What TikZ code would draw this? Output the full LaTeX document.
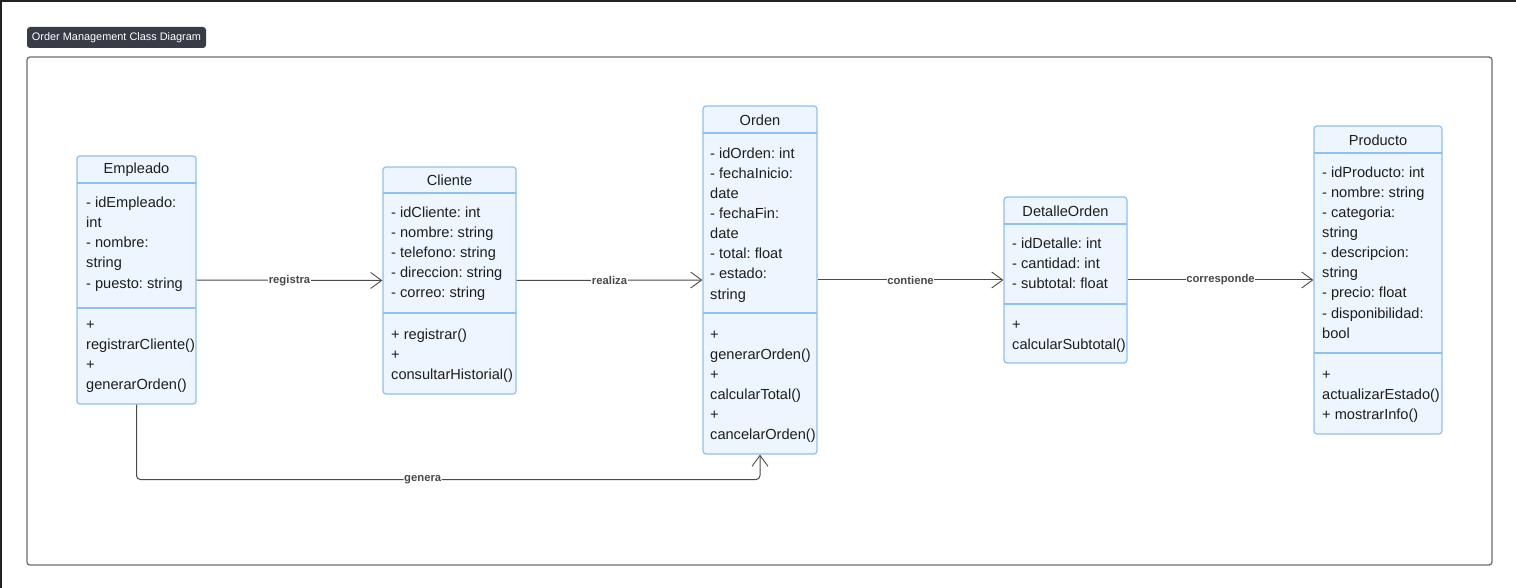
\documentclass[tikz,border=0pt]{standalone}
\usepackage{fontspec}
\setmainfont{Liberation Sans}
\usetikzlibrary{arrows.meta}
\frenchspacing
\definecolor{clsfill}{HTML}{EDF5FF}
\definecolor{clsborder}{HTML}{8FC0EE}
\definecolor{txtc}{HTML}{1E1E1E}
\definecolor{linec}{HTML}{4A4A4A}
\definecolor{framec}{HTML}{6E6E6E}
\definecolor{tagc}{HTML}{383C47}
\definecolor{darkc}{HTML}{222222}
\tikzset{
  cls/.style={draw=clsborder, fill=clsfill, rounded corners=3pt, line width=1.2pt, inner sep=0pt},
  div/.style={draw=clsborder, line width=1.2pt},
  txt/.style={text=txtc, inner sep=0pt, font=\frenchspacing\fontsize{14.6}{17}\selectfont},
  conn/.style={draw=linec, line width=1pt, -{Straight Barb[length=11pt,width=16pt,line width=0.9pt]}},
  lbl/.style={fill=white, inner sep=0.5pt, text=linec, font=\bfseries\fontsize{11.3}{13}\selectfont}
}
\newcommand{\mylines}[4]{%
  \foreach \t [count=\i from 0] in {#4}
    \node[txt, anchor=base west] (#1-\i) at (#2, #3+20*\i) {\t};%
}
\begin{document}
\begin{tikzpicture}[x=1pt, y=-1pt]
\useasboundingbox (0,0) rectangle (1516,588);
\fill[white] (0,0) rectangle (1516,588);
% screenshot edge
\fill[darkc] (0,0) rectangle (1516,2);
\fill[darkc] (0,0) rectangle (2,588);
% title tag
\node[fill=tagc, rounded corners=3pt, minimum width=179pt, minimum height=21pt, inner sep=0pt,
      text=white, font=\fontsize{10.9}{12}\selectfont] (tag) at (116.5,37.5) {Order Management Class Diagram};
% container
\node[draw=framec, line width=1.3pt, rounded corners=3pt, minimum width=1465pt, minimum height=508pt, inner sep=0pt] (frame) at (759.5,311) {};

% Empleado
\node[cls, minimum width=119pt, minimum height=248pt] (emp) at (136.5,280) {};
\draw[div] (77,183) -- (196,183);
\draw[div] (77,308) -- (196,308);
\node[txt] (emph) at (136.5,170) {Empleado};
\mylines{empa}{86}{208}{- idEmpleado:,int,- nombre:,string,- puesto: string}
\mylines{empm}{86}{329}{+,registrarCliente(),+,generarOrden()}

% Cliente
\node[cls, minimum width=133pt, minimum height=227pt] (cli) at (449.5,280.5) {};
\draw[div] (383,193) -- (516,193);
\draw[div] (383,313) -- (516,313);
\node[txt] (clih) at (449.5,180) {Cliente};
\mylines{clia}{391}{218}{- idCliente: int,- nombre: string,- telefono: string,- direccion: string,- correo: string}
\mylines{clim}{391}{339}{+ registrar(),+,consultarHistorial()}

% Orden
\node[cls, minimum width=114pt, minimum height=348pt] (ord) at (760,280) {};
\draw[div] (703,133) -- (817,133);
\draw[div] (703,313) -- (817,313);
\node[txt] (ordh) at (760,120) {Orden};
\mylines{orda}{710}{159}{- idOrden: int,- fechaInicio:,date,- fechaFin:,date,- total: float,- estado:,string}
\mylines{ordm}{710}{339}{+,generarOrden(),+,calcularTotal(),+,cancelarOrden()}

% DetalleOrden
\node[cls, minimum width=123pt, minimum height=166pt] (det) at (1065.5,280) {};
\draw[div] (1004,224) -- (1127,224);
\draw[div] (1004,304) -- (1127,304);
\node[txt] (deth) at (1065.5,211) {DetalleOrden};
\mylines{deta}{1012}{249}{- idDetalle: int,- cantidad: int,- subtotal: float}
\mylines{detm}{1012}{329}{+,calcularSubtotal()}

% Producto
\node[cls, minimum width=128pt, minimum height=308pt] (pro) at (1378,280) {};
\draw[div] (1314,153) -- (1442,153);
\draw[div] (1314,353) -- (1442,353);
\node[txt] (proh) at (1378,140) {Producto};
\mylines{proa}{1322}{178}{- idProducto: int,- nombre: string,- categoria:,string,- descripcion:,string,- precio: float,- disponibilidad:,bool}
\mylines{prom}{1322}{379}{+,actualizarEstado(),+ mostrarInfo()}

% connectors
\draw[conn] (emp.east) -- node[lbl] (l1) {registra} (cli.west);
\draw[conn] (cli.east) -- node[lbl] (l2) {realiza} (ord.west);
\draw[conn] (ord.east) -- node[lbl] (l3) {contiene} (det.west);
\draw[conn] (det.east) -- node[lbl] (l4) {corresponde} (pro.west);
\draw[conn, rounded corners=4pt] (emp.south) -- ++(0,75) -- node[lbl, pos=0.459] (l5) {genera} ++(623.5,0) -- (ord.south);
\end{tikzpicture}
\end{document}
